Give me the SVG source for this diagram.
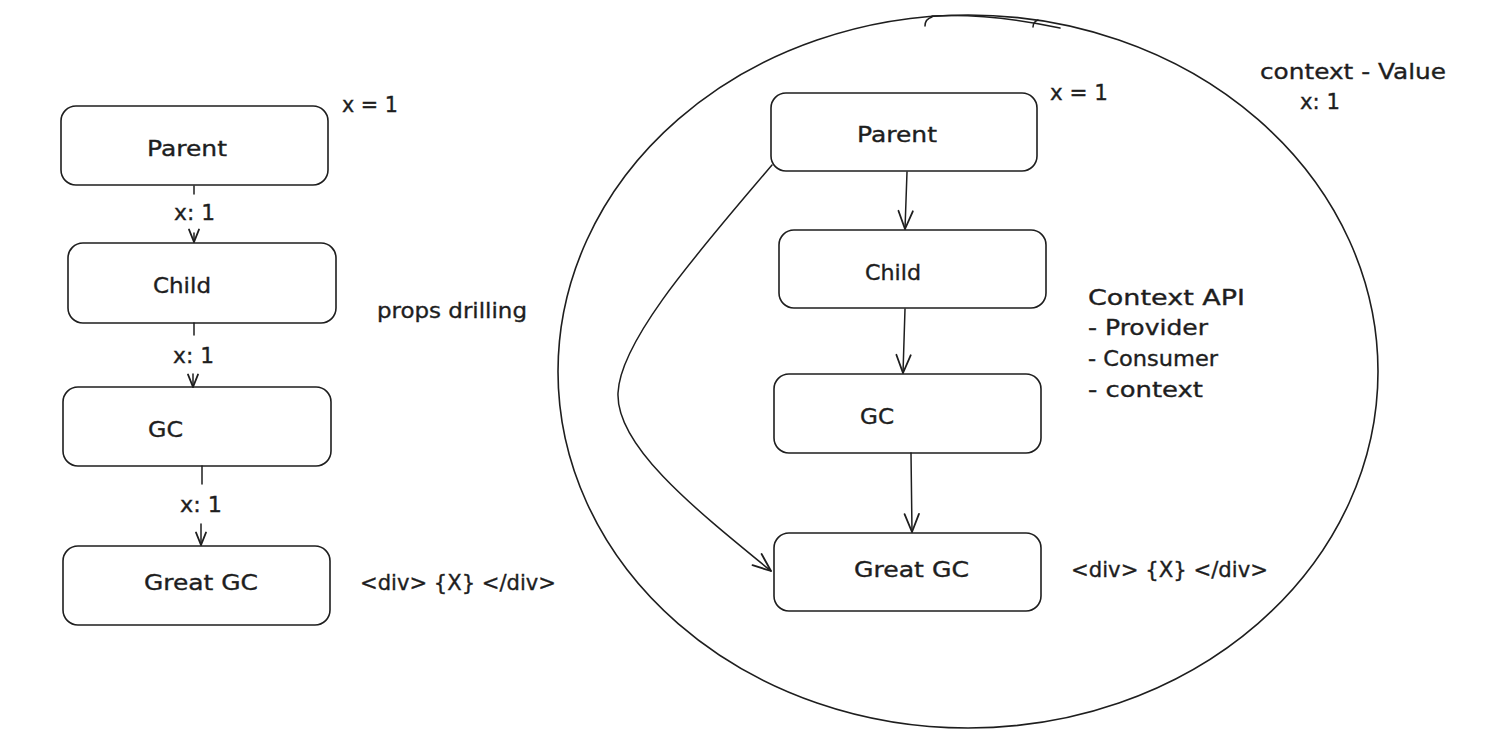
<svg xmlns="http://www.w3.org/2000/svg" width="1506" height="755" viewBox="0 0 1506 755">
<style>
.box{fill:none;stroke:#1e1e1e;stroke-width:1.6}
.ln{fill:none;stroke:#1e1e1e;stroke-width:1.5;stroke-linecap:round}
text{font-family:"DejaVu Sans","Liberation Sans",sans-serif;font-size:21px;fill:#1e1e1e;stroke:#1e1e1e;stroke-width:0.35}
</style>
<defs>
<marker id="headL" markerUnits="userSpaceOnUse" markerWidth="20" markerHeight="20" viewBox="-12 -8 14 16" refX="0" refY="0" orient="auto">
<path d="M-10,-4 L0,0 L-10,4" fill="none" stroke="#1e1e1e" stroke-width="1.5" stroke-linecap="round" stroke-linejoin="round"/>
</marker>
<marker id="headR" markerUnits="userSpaceOnUse" markerWidth="24" markerHeight="24" viewBox="-18 -10 20 20" refX="0" refY="0" orient="auto">
<path d="M-15,-6 L0,0 L-15,6" fill="none" stroke="#1e1e1e" stroke-width="1.5" stroke-linecap="round" stroke-linejoin="round"/>
</marker>
</defs>
<rect width="1506" height="755" fill="#ffffff"/>

<g id="context-ellipse">
<ellipse cx="968" cy="371.5" rx="410" ry="356.5" class="box"/>
<path class="ln" d="M925,26 Q925,19 932,17" stroke-width="1.2"/>
<path class="ln" d="M932,16 Q990,13 1060,28" stroke-width="1"/>
<path class="ln" d="M1033,27 Q1033,22 1038,20" stroke-width="1.2"/>
</g>

<g id="left-parent">
<rect class="box" x="61" y="106" width="267" height="79" rx="15"/>
<text x="147" y="156" textLength="80" lengthAdjust="spacingAndGlyphs">Parent</text>
</g>
<g id="left-child">
<rect class="box" x="68" y="243" width="268" height="80" rx="15"/>
<text x="153" y="293" textLength="58" lengthAdjust="spacingAndGlyphs">Child</text>
</g>
<g id="left-gc">
<rect class="box" x="63" y="387" width="268" height="79" rx="15"/>
<text x="148" y="437" textLength="35" lengthAdjust="spacingAndGlyphs">GC</text>
</g>
<g id="left-great-gc">
<rect class="box" x="63" y="546" width="267" height="79" rx="15"/>
<text x="144" y="590" textLength="114" lengthAdjust="spacingAndGlyphs">Great GC</text>
</g>

<g id="right-parent">
<rect class="box" x="771" y="93" width="266" height="78" rx="15"/>
<text x="857" y="142" textLength="80" lengthAdjust="spacingAndGlyphs">Parent</text>
</g>
<g id="right-child">
<rect class="box" x="779" y="230" width="267" height="78" rx="15"/>
<text x="865" y="280" textLength="56" lengthAdjust="spacingAndGlyphs">Child</text>
</g>
<g id="right-gc">
<rect class="box" x="774" y="374" width="267" height="79" rx="15"/>
<text x="860" y="424" textLength="34" lengthAdjust="spacingAndGlyphs">GC</text>
</g>
<g id="right-great-gc">
<rect class="box" x="774" y="533" width="267" height="78" rx="15"/>
<text x="854" y="577" textLength="115" lengthAdjust="spacingAndGlyphs">Great GC</text>
</g>

<g id="connectors">
<line class="ln" x1="194" y1="186" x2="194" y2="194"/>
<line class="ln" x1="194" y1="233" x2="194" y2="242" marker-end="url(#headL)"/>
<text x="174" y="220" textLength="41" lengthAdjust="spacingAndGlyphs">x: 1</text>
<line class="ln" x1="194" y1="323" x2="194" y2="335"/>
<line class="ln" x1="193" y1="374" x2="193" y2="387" marker-end="url(#headL)"/>
<text x="173" y="363" textLength="41" lengthAdjust="spacingAndGlyphs">x: 1</text>
<line class="ln" x1="202" y1="466" x2="202" y2="484"/>
<line class="ln" x1="201" y1="524" x2="201" y2="545" marker-end="url(#headL)"/>
<text x="180" y="512" textLength="42" lengthAdjust="spacingAndGlyphs">x: 1</text>

<line class="ln" x1="907" y1="172" x2="905" y2="229" marker-end="url(#headR)"/>
<line class="ln" x1="905" y1="309" x2="903" y2="373" marker-end="url(#headR)"/>
<line class="ln" x1="911" y1="453" x2="912" y2="532" marker-end="url(#headR)"/>
<path class="ln" d="M772,165 C700,250 620,340 618,393 C616,445 690,505 771,571" marker-end="url(#headR)"/>
</g>

<g id="left-notes">
<text x="342" y="112" textLength="56" lengthAdjust="spacingAndGlyphs">x = 1</text>
<text x="377" y="318" textLength="150" lengthAdjust="spacingAndGlyphs">props drilling</text>
<text x="360" y="590" textLength="196" lengthAdjust="spacingAndGlyphs">&lt;div&gt; {X} &lt;/div&gt;</text>
</g>

<g id="right-notes">
<text x="1050" y="100" textLength="58" lengthAdjust="spacingAndGlyphs">x = 1</text>
<text x="1260" y="79" textLength="186" lengthAdjust="spacingAndGlyphs">context - Value</text>
<text x="1300" y="109" textLength="40" lengthAdjust="spacingAndGlyphs">x: 1</text>
<text x="1088" y="305" textLength="157" lengthAdjust="spacingAndGlyphs">Context API</text>
<text x="1088" y="335" textLength="120" lengthAdjust="spacingAndGlyphs">- Provider</text>
<text x="1088" y="366" textLength="130" lengthAdjust="spacingAndGlyphs">- Consumer</text>
<text x="1088" y="397" textLength="115" lengthAdjust="spacingAndGlyphs">- context</text>
<text x="1071" y="577" textLength="197" lengthAdjust="spacingAndGlyphs">&lt;div&gt; {X} &lt;/div&gt;</text>
</g>
</svg>
